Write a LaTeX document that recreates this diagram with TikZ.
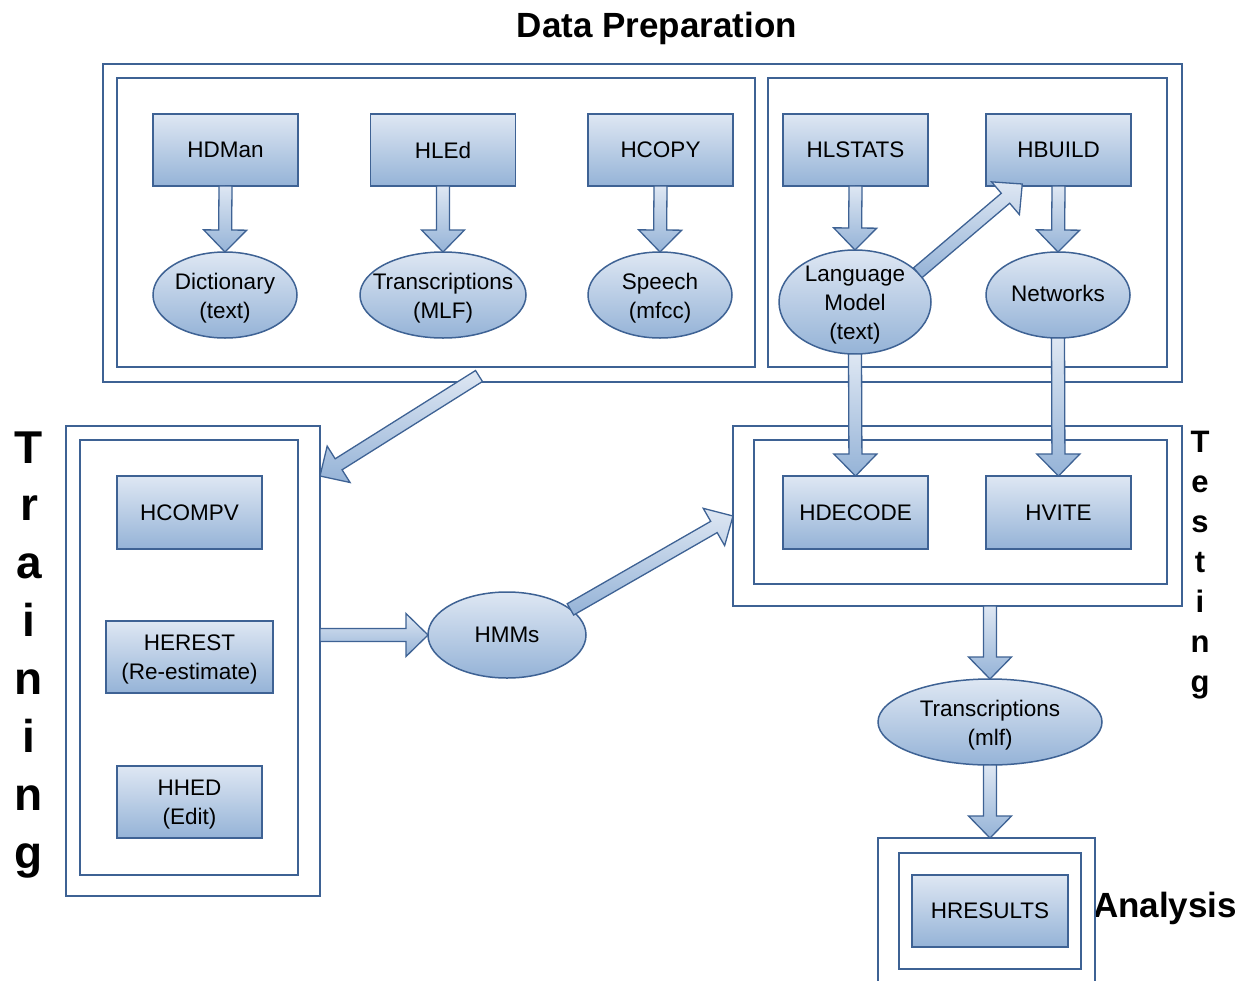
\documentclass[tikz,border=0pt]{standalone}
\usepackage{fontspec}
\setmainfont{Liberation Sans}
\usetikzlibrary{calc,shapes.geometric}

\definecolor{edge}{RGB}{62,98,148}
\definecolor{shtop}{RGB}{222,231,243}
\definecolor{shbot}{RGB}{149,179,215}

\newcommand\boxtextfont{\fontsize{22.5}{29}\selectfont}
\newcommand\headfont{\fontsize{35}{40}\selectfont\bfseries}
\newcommand\trainfont{\fontsize{46}{50}\selectfont\bfseries}
\newcommand\testfont{\fontsize{31}{36}\selectfont\bfseries}

\tikzset{
  container/.style={draw=edge, line width=1.8pt, rectangle, inner sep=0pt, outer sep=0pt},
  tool/.style={draw=edge, line width=1.5pt, top color=shtop, bottom color=shbot,
    rectangle, minimum width=145pt, minimum height=72pt, inner sep=0pt, outer sep=0pt,
    align=center, font=\boxtextfont},
  store/.style={draw=edge, line width=1.5pt, top color=shtop, bottom color=shbot,
    ellipse, inner sep=0pt, outer sep=0pt},
  lbl/.style={align=center, font=\boxtextfont, inner sep=0pt},
  multi/.style={lbl, yshift=-2.8pt},
  barrow/.style={draw=edge, line width=1.3pt, top color=shtop, bottom color=shbot,
    line join=miter},
}

% thick block arrow from #1 to #2 (shaft 13pt, head 43pt wide, 22pt long)
\newcommand\blockarrow[2]{%
  \path (#1) coordinate (bas) (#2) coordinate (bae);
  \path ($(bae)!22pt!(bas)$) coordinate (bah);
  \draw[barrow] ($(bas)!6.5pt!90:(bae)$) -- ($(bah)!6.5pt!90:(bae)$)
    -- ($(bah)!21.5pt!90:(bae)$) -- (bae) -- ($(bah)!21.5pt!-90:(bae)$)
    -- ($(bah)!6.5pt!-90:(bae)$) -- ($(bas)!6.5pt!-90:(bae)$) -- cycle;
}

\begin{document}
\begin{tikzpicture}[x=1pt, y=-1pt]
\useasboundingbox (0,0) rectangle (1246,980);

% ---- headings
\node[anchor=base, font=\headfont, inner sep=0pt] (title) at (657,37) {Data Preparation};
\node[anchor=base, font=\headfont, inner sep=0pt] (analysis) at (1165,917) {Analysis};
\foreach \c [count=\i from 0] in {T,r,a,i,n,i,n,g}
  \node[anchor=base, font=\trainfont, inner sep=0pt] (train\i) at (29,{463+57.9*\i}) {\c};
\foreach \c [count=\i from 0] in {T,e,s,t,i,n,g}
  \node[anchor=base, font=\testfont, inner sep=0pt] (test\i) at (1200,{452+40*\i}) {\c};

% ---- containers
\node[container, minimum width=1079pt, minimum height=318pt] (dataprep) at (642.5,223) {};
\node[container, minimum width=638pt, minimum height=289pt] (dpleft) at (436,222.5) {};
\node[container, minimum width=399pt, minimum height=289pt] (dpright) at (967.5,222.5) {};
\node[container, minimum width=254pt, minimum height=470pt] (training) at (193,661) {};
\node[container, minimum width=218pt, minimum height=435pt] (trainin) at (189,657.5) {};
\node[container, minimum width=449pt, minimum height=180pt] (testing) at (957.5,516) {};
\node[container, minimum width=413pt, minimum height=144pt] (testin) at (960.5,512) {};
\node[container, minimum width=217pt, minimum height=160pt] (anaouter) at (986.5,918) {};
\node[container, minimum width=182pt, minimum height=116pt] (anain) at (990,911) {};

% ---- tools
\node[tool] (hdman) at (225.5,150) {HDMan};
\node[tool] (hled) at (443,150) {HLEd};
\node[tool] (hcopy) at (660.5,150) {HCOPY};
\node[tool] (hlstats) at (855.5,150) {HLSTATS};
\node[tool] (hbuild) at (1058.5,150) {HBUILD};
\node[tool, minimum height=73pt] (hcompv) at (189.5,512.5) {HCOMPV};
\node[tool, minimum width=167pt] (herest) at (189.5,657) {};
\node[multi] at (herest) {HEREST\\(Re-estimate)};
\node[tool] (hhed) at (189.5,802) {};
\node[multi] at (hhed) {HHED\\(Edit)};
\node[tool, minimum height=73pt] (hdecode) at (855.5,512.5) {HDECODE};
\node[tool, minimum height=73pt] (hvite) at (1058.5,512.5) {HVITE};
\node[tool, minimum width=156pt] (hresults) at (990,911) {HRESULTS};

% ---- data stores
\node[store, minimum width=144pt, minimum height=86pt] (dict) at (225,295) {};
\node[multi] at (dict) {Dictionary\\(text)};
\node[store, minimum width=166pt, minimum height=86pt] (trans) at (443,295) {};
\node[multi] at (trans) {Transcriptions\\(MLF)};
\node[store, minimum width=144pt, minimum height=86pt] (speech) at (660,295) {};
\node[multi] at (speech) {Speech\\(mfcc)};
\node[store, minimum width=152pt, minimum height=104pt] (lm) at (855,302) {};
\node[multi] at (lm) {Language\\Model\\(text)};
\node[store, minimum width=144pt, minimum height=86pt] (net) at (1058,295) {};
\node[lbl, yshift=1.5pt] at (net) {Networks};
\node[store, minimum width=158pt, minimum height=86pt] (hmm) at (507,635) {};
\node[lbl] at (hmm) {HMMs};
\node[store, minimum width=224pt, minimum height=86pt] (trans2) at (990,722) {};
\node[multi] at (trans2) {Transcriptions\\(mlf)};

% ---- connector end points
\coordinate (hbin) at ($(hbuild.south west)!0.25!(hbuild.south east)+(0,-2)$);
\coordinate (dpout) at (479,376);
\coordinate (trin) at ($(training.north east)+(0,50)$);

% ---- block arrows
\blockarrow{hdman.south}{dict.north}
\blockarrow{hled.south}{trans.north}
\blockarrow{hcopy.south}{speech.north}
\blockarrow{hlstats.south}{lm.north}
\blockarrow{hbuild.south}{net.north}
\blockarrow{lm.25}{hbin}
\blockarrow{lm.south}{hdecode.north}
\blockarrow{net.south}{hvite.north}
\blockarrow{dpout}{trin}
\blockarrow{training.east |- hmm.west}{hmm.west}
\blockarrow{hmm.22}{testing.west}
\blockarrow{trans2.north |- testing.south}{trans2.north}
\blockarrow{trans2.south}{trans2.south |- anaouter.north}
\end{tikzpicture}
\end{document}
